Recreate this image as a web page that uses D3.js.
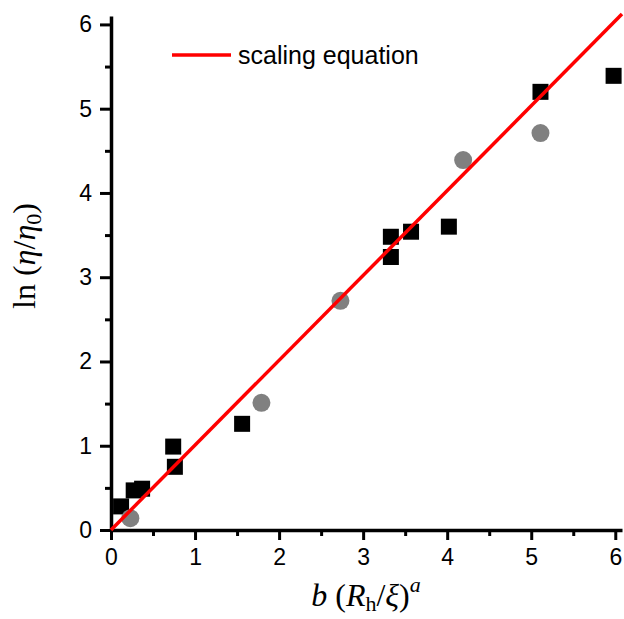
<!DOCTYPE html>
<html>
<head>
<meta charset="utf-8">
<script src="https://cdn.jsdelivr.net/npm/d3@7"></script>
<style>
  body { margin: 0; background: #fff; }
  svg { display: block; }
  .tick text { font-family: "Liberation Sans", Arial, sans-serif; font-size: 23px; fill: #000; }
</style>
</head>
<body>
<svg id="chart"></svg>
<script>
// data
const squares = [
    [0.12, 0.28], [0.27, 0.47], [0.37, 0.49], [0.74, 0.99], [0.76, 0.75],
    [1.56, 1.26], [3.33, 3.48], [3.33, 3.24], [3.57, 3.54], [4.02, 3.60],
    [5.11, 5.20], [5.98, 5.39]
];
const circles = [
    [0.23, 0.14], [1.79, 1.51], [2.73, 2.72], [4.19, 4.39], [5.11, 4.71]
];
// scaling equation y = k * x
const slope = 1.007;
const fitX = [0, 6.08];
const majorTicks = [0, 1, 2, 3, 4, 5, 6];
const minorTicks = [0.5, 1.5, 2.5, 3.5, 4.5, 5.5];
const legendLabel = "scaling equation";

const width = 624, height = 619;
const svg = d3.select("#chart").attr("width", width).attr("height", height);

const x = d3.scaleLinear().domain([0, 6.08]).range([111, 622]);
const y = d3.scaleLinear().domain([0, 6.1]).range([530, 16]);
const fmt = d3.format("d");

// minor ticks
svg.append("g")
    .attr("transform", `translate(0,${y(0)})`)
    .call(d3.axisBottom(x).tickValues(minorTicks).tickSize(6).tickSizeOuter(0).tickFormat(""))
    .call(g => g.select(".domain").remove());
svg.append("g")
    .attr("transform", `translate(${x(0)},0)`)
    .call(d3.axisLeft(y).tickValues(minorTicks).tickSize(6).tickSizeOuter(0).tickFormat(""))
    .call(g => g.select(".domain").remove());

// major ticks + axis lines
svg.append("g")
    .attr("transform", `translate(0,${y(0)})`)
    .call(d3.axisBottom(x).tickValues(majorTicks).tickSize(10).tickSizeOuter(0).tickPadding(9).tickFormat(fmt));
svg.append("g")
    .attr("transform", `translate(${x(0)},0)`)
    .call(d3.axisLeft(y).tickValues(majorTicks).tickSize(11).tickSizeOuter(0).tickPadding(8).tickFormat(fmt));

svg.selectAll(".tick line").attr("stroke", "#000").attr("stroke-width", 3);
svg.selectAll(".domain").attr("stroke", "#000").attr("stroke-width", 3.5);

// points
svg.append("g").selectAll("rect")
    .data(squares)
    .enter().append("rect")
    .attr("x", d => x(d[0]) - 8)
    .attr("y", d => y(d[1]) - 8)
    .attr("width", 16)
    .attr("height", 16)
    .attr("fill", "#000");

svg.append("g").selectAll("circle")
    .data(circles)
    .enter().append("circle")
    .attr("cx", d => x(d[0]))
    .attr("cy", d => y(d[1]))
    .attr("r", 9)
    .attr("fill", "#808080");

// fitted line
svg.append("line")
    .attr("x1", x(fitX[0])).attr("y1", y(slope * fitX[0]))
    .attr("x2", x(fitX[1])).attr("y2", y(slope * fitX[1]))
    .attr("stroke", "#ff0000")
    .attr("stroke-width", 3.5);

// legend
svg.append("line")
    .attr("x1", 172).attr("x2", 231).attr("y1", 55).attr("y2", 55)
    .attr("stroke", "#ff0000").attr("stroke-width", 3.5);
svg.append("text")
    .attr("x", 238).attr("y", 64)
    .attr("font-family", "Liberation Sans, Arial, sans-serif")
    .attr("font-size", 25)
    .text(legendLabel);

// axis titles
const serif = "Liberation Serif, Times New Roman, serif";
const xt = svg.append("text")
    .attr("x", 366).attr("y", 606)
    .attr("text-anchor", "middle")
    .attr("font-family", serif)
    .attr("font-size", 32);
xt.append("tspan").attr("font-style", "italic").text("b");
xt.append("tspan").text(" (");
xt.append("tspan").attr("font-style", "italic").text("R");
xt.append("tspan").attr("font-size", 22).attr("dy", 5).text("h");
xt.append("tspan").attr("dy", -5).text("/");
xt.append("tspan").attr("font-style", "italic").text("ξ");
xt.append("tspan").text(")");
xt.append("tspan").attr("font-style", "italic").attr("font-size", 22).attr("dy", -14).text("a");

const yt = svg.append("text")
    .attr("transform", "translate(35,256) rotate(-90)")
    .attr("text-anchor", "middle")
    .attr("font-family", serif)
    .attr("font-size", 32);
yt.append("tspan").text("ln (");
yt.append("tspan").attr("font-style", "italic").text("η");
yt.append("tspan").text("/");
yt.append("tspan").attr("font-style", "italic").text("η");
yt.append("tspan").attr("font-size", 22).attr("dy", 6).text("0");
yt.append("tspan").attr("dy", -6).text(")");
</script>
</body>
</html>
